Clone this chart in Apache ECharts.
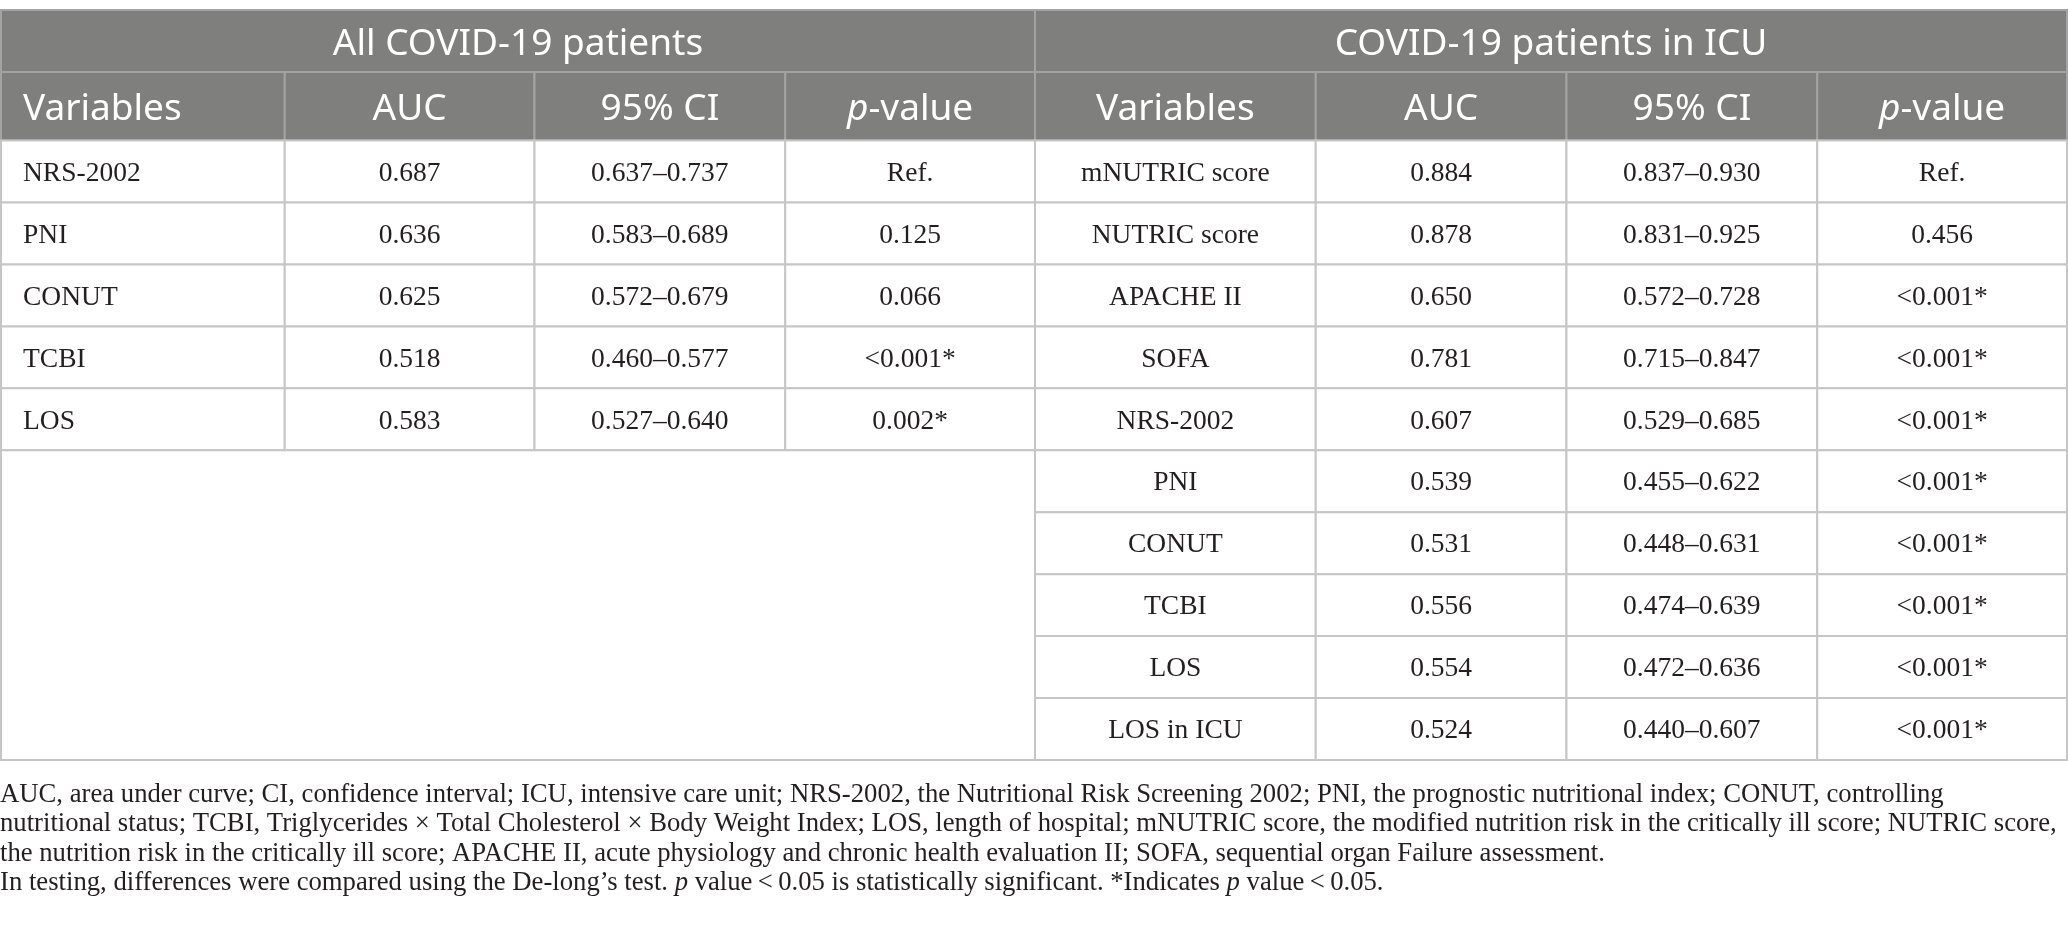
<!DOCTYPE html>
<html>
<head>
<meta charset="utf-8">
<script src="https://cdn.jsdelivr.net/npm/echarts@6/dist/echarts.min.js"></script>
<style>
html, body { margin: 0; padding: 0; background: #fff; }
#main { width: 2068px; height: 927px; }
</style>
</head>
<body>
<div id="main"></div>
<script>
// table content
var groups = ['All COVID-19 patients', 'COVID-19 patients in ICU'];
var headers = ['Variables', 'AUC', '95% CI', '{i|p}-value'];

var allVars = ['NRS-2002', 'PNI', 'CONUT', 'TCBI', 'LOS'];
var allAuc = ['0.687', '0.636', '0.625', '0.518', '0.583'];
var allCi = ['0.637–0.737', '0.583–0.689', '0.572–0.679', '0.460–0.577', '0.527–0.640'];
var allP = ['Ref.', '0.125', '0.066', '<0.001*', '0.002*'];

var icuVars = ['mNUTRIC score', 'NUTRIC score', 'APACHE II', 'SOFA', 'NRS-2002', 'PNI', 'CONUT', 'TCBI', 'LOS', 'LOS in ICU'];
var icuAuc = ['0.884', '0.878', '0.650', '0.781', '0.607', '0.539', '0.531', '0.556', '0.554', '0.524'];
var icuCi = ['0.837–0.930', '0.831–0.925', '0.572–0.728', '0.715–0.847', '0.529–0.685', '0.455–0.622', '0.448–0.631', '0.474–0.639', '0.472–0.636', '0.440–0.607'];
var icuP = ['Ref.', '0.456', '<0.001*', '<0.001*', '<0.001*', '<0.001*', '<0.001*', '<0.001*', '<0.001*', '<0.001*'];

var notes = [
    'AUC, area under curve; CI, confidence interval; ICU, intensive care unit; NRS-2002, the Nutritional Risk Screening 2002; PNI, the prognostic nutritional index; CONUT, controlling',
    'nutritional status; TCBI, Triglycerides × Total Cholesterol × Body Weight Index; LOS, length of hospital; mNUTRIC score, the modified nutrition risk in the critically ill score; NUTRIC score,',
    'the nutrition risk in the critically ill score; APACHE II, acute physiology and chronic health evaluation II; SOFA, sequential organ Failure assessment.',
    'In testing, differences were compared using the De-long\u2019s test. {i|p} value\u2009<\u20090.05 is statistically significant. *Indicates {i|p} value\u2009<\u20090.05.'
];

// layout: column widths and row heights (in axis units)
var colW = [284, 250, 251, 250, 281, 251, 251, 250];
var rowH = [62, 68.5, 61.9, 61.9, 61.9, 61.9, 61.9, 61.9, 61.9, 61.9, 61.9, 61.9];

var xE = [0], yE = [0];
colW.forEach(function (w, i) { xE.push(xE[i] + w); });
rowH.forEach(function (h, i) { yE.push(yE[i] + h); });

var cells = [];
function addCell(c0, c1, r0, r1, text, kind, align) {
    cells.push({ c0: c0, c1: c1, r0: r0, r1: r1, text: text, kind: kind, align: align || 'center' });
}

groups.forEach(function (g, i) {
    addCell(i * 4, i * 4 + 4, 0, 1, g, 'group');
});
for (var k = 0; k < 2; k++) {
    headers.forEach(function (h, j) {
        addCell(k * 4 + j, k * 4 + j + 1, 1, 2, h, 'head', (k === 0 && j === 0) ? 'left' : 'center');
    });
}
allVars.forEach(function (v, i) {
    var cols = [v, allAuc[i], allCi[i], allP[i]];
    cols.forEach(function (t, j) {
        addCell(j, j + 1, i + 2, i + 3, t, 'body', j === 0 ? 'left' : 'center');
    });
});
addCell(0, 4, allVars.length + 2, icuVars.length + 2, '', 'body');
icuVars.forEach(function (v, i) {
    var cols = [v, icuAuc[i], icuCi[i], icuP[i]];
    cols.forEach(function (t, j) {
        addCell(4 + j, 5 + j, i + 2, i + 3, t, 'body');
    });
});

var dom = document.getElementById('main');
var myChart = echarts.init(dom);

function renderCell(params, api) {
    var c = cells[params.dataIndex];
    var p0 = api.coord([api.value(0), api.value(1)]);
    var p1 = api.coord([api.value(2), api.value(3)]);
    var isHead = c.kind !== 'body';
    var tx = c.align === 'left' ? p0[0] + 22 : (p0[0] + p1[0]) / 2;
    return {
        type: 'group',
        children: [{
            type: 'rect',
            shape: { x: p0[0], y: p0[1], width: p1[0] - p0[0], height: p1[1] - p0[1] },
            style: {
                fill: isHead ? '#7f807e' : '#ffffff',
                stroke: isHead ? '#a3a3a3' : '#c6c6c6',
                lineWidth: 2
            }
        }, {
            type: 'text',
            style: {
                text: c.text,
                x: tx,
                y: (p0[1] + p1[1]) / 2 + (isHead ? 3 : 2),
                align: c.align,
                verticalAlign: 'middle',
                fill: isHead ? '#ffffff' : '#231f20',
                fontFamily: isHead ? 'Noto Sans' : 'Liberation Serif',
                fontSize: isHead ? 37 : 27.5,
                rich: {
                    i: {
                        fontStyle: 'italic',
                        fontFamily: 'Noto Sans',
                        fontSize: 37,
                        fill: '#ffffff'
                    }
                }
            }
        }]
    };
}

var option = {
    animation: false,
    backgroundColor: '#ffffff',
    title: {
        text: notes.join('\n'),
        left: 0,
        top: 780,
        padding: 0,
        textStyle: {
            fontFamily: 'Liberation Serif',
            fontWeight: 'normal',
            fontSize: 26.7,
            lineHeight: 29.5,
            color: '#231f20',
            rich: {
                i: {
                    fontFamily: 'Liberation Serif',
                    fontStyle: 'italic',
                    fontSize: 26.7,
                    lineHeight: 29.5,
                    color: '#231f20'
                }
            }
        }
    },
    grid: { left: 1, right: 1, top: 10, height: 750, containLabel: false },
    xAxis: { type: 'value', min: 0, max: xE[xE.length - 1], show: false },
    yAxis: { type: 'value', min: 0, max: yE[yE.length - 1], inverse: true, show: false },
    series: [{
        type: 'custom',
        renderItem: renderCell,
        encode: { x: [0, 2], y: [1, 3] },
        data: cells.map(function (c) {
            return [xE[c.c0], yE[c.r0], xE[c.c1], yE[c.r1]];
        })
    }]
};

myChart.setOption(option);
</script>
</body>
</html>
